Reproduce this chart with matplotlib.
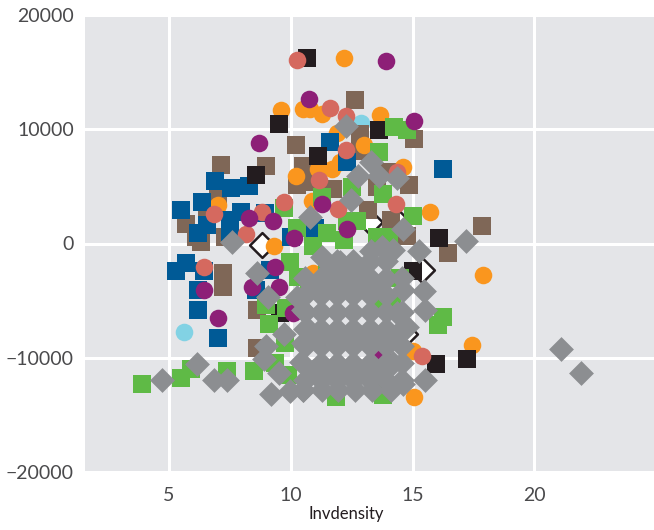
import matplotlib
matplotlib.use('Agg')
import matplotlib.pyplot as plt

# Dados (Invdensity, valor)
white_x = [8.8, 13.25, 14.3, 15.4, 14.7]
white_y = [-90, 1840, 2100, -2280, -7880]

cyan_x = [12.9, 5.6]
cyan_y = [10510, -7710]

brown_x = [10.2, 7.15, 9.0, 10.25, 10.7, 7.0, 5.7, 6.1, 6.3, 7.3, 6.55, 7.2, 7.2, 8.6, 8.6,
           12.65, 15.05, 12.85, 10.5, 11.75, 14.85, 13.55, 13.15, 14.1, 14.75, 10.7, 12.85,
           13.95, 16.45, 17.85, 9.15]
brown_y = [8580, 6830, 6750, 5080, 6750, 4120, 1750, 610, 90, 610, 2370, -2540, -3850, -5780,
           -9110, 12530, 9110, 9550, 6750, 4730, 5080, 4910, 2890, 2100, 700, 5340, 8060,
           6220, -790, 1490, -2280]

orange_x = [12.2, 9.6, 10.5, 10.8, 11.3, 13.65, 11.9, 13.0, 14.6, 11.7, 11.1, 12.0, 10.2, 7.0,
            10.85, 15.7, 17.9, 17.45, 15.0, 15.05, 10.9, 9.3, 11.5]
orange_y = [16200, 11650, 11740, 11740, 11300, 11210, 9640, 8580, 6660, 6480, 6480, 7100, 5870,
            3330, 3680, 2720, -2800, -8850, -9370, -13400, -2540, -260, -2540]

blue_x = [6.9, 7.55, 8.3, 6.35, 5.5, 7.95, 8.95, 7.5, 6.55, 6.2, 7.5, 10.0, 11.6, 12.3, 16.25,
          11.0, 5.3, 5.7, 6.45, 6.2, 6.2, 7.0, 8.55, 9.15]
blue_y = [5430, 4820, 4990, 3590, 2890, 2720, 2630, 2100, 1660, 960, 1050, 530, 8850, 7100, 6480,
          1400, -2450, -1750, -2370, -4030, -5780, -8230, -4030, -2280]

black_x = [10.65, 13.6, 11.1, 16.1, 9.5, 8.55, 15.95, 17.25, 15.0, 9.55]
black_y = [16200, 9900, 7620, 440, 10420, 5960, -10510, -10070, -2450, -6040]

green_x = [9.7, 10.25, 13.6, 14.25, 14.75, 12.5, 13.8, 11.3, 15.0, 12.7, 12.3, 11.5, 13.55, 14.05,
           10.9, 12.2, 3.9, 5.5, 5.9, 7.4, 8.5, 9.1, 9.9, 9.75, 9.35, 9.0, 9.8, 9.95, 10.3, 10.75,
           16.25, 16.05, 11.85, 13.8, 13.8, 14.5, 13.65, 11.5, 13.55, 14.15]
green_y = [3070, 1400, 7970, 10160, 9900, 4910, 4290, 4030, 2370, 1930, 1930, 960, 610, 610,
           -260, 350, -12260, -11740, -10950, -11130, -11130, -7010, -11480, -8670, -10420, -5340,
           -5610, -1660, -2890, -3420, -6390, -7100, -13400, -11650, -13230, -2980, -9550, -2540,
           -4910, -5080]

pink_x = [10.25, 11.6, 12.25, 12.25, 11.15, 14.3, 11.95, 14.35, 9.7, 8.8, 6.85, 8.15, 6.45, 15.4]
pink_y = [16030, 11830, 11130, 8150, 5520, 3420, 2980, 6220, 3590, 2720, 2540, 790, -2100, -9810]

purple_x = [8.7, 10.75, 8.3, 9.25, 10.15, 13.9, 15.05, 11.3, 12.3, 9.35, 6.45, 7.0, 8.4, 9.5,
            10.1, 11.1, 13.75]
purple_y = [8760, 12610, 2190, 2010, 440, 15940, 10690, 3420, 1230, -2100, -4030, -6480, -3850,
            -3850, -6040, -3420, -9810]

gray_x = [12.25, 13.3, 12.75, 13.6, 14.35, 12.45, 10.8, 14.6, 17.2, 7.6, 8.6, 9.05, 10.25, 10.5,
          9.7, 9.0, 8.9, 9.5, 9.2, 9.95, 10.5, 10.4, 10.5, 10.65, 6.15, 4.7, 6.85, 7.4, 21.1, 21.9,
          15.25, 11.3, 15.45, 15.5, 14.75, 14.6, 14.35, 14.2,
          12.0, 13.3, 13.75, 14.2,
          11.9, 12.55, 13.25, 13.9,
          10.6, 11.25, 11.9, 12.55, 13.25, 13.9, 14.55,
          10.6, 11.25, 11.9, 12.55, 13.25, 13.9,
          10.6, 11.25, 11.9, 12.55, 13.25, 13.9, 14.55,
          10.6, 11.25, 11.9, 12.55, 13.25, 13.9, 14.55,
          10.6, 11.25, 11.9, 12.55, 13.25, 13.9, 14.55,
          11.25, 11.9, 12.55, 13.25, 13.9, 14.55,
          10.6, 11.25, 11.9, 12.55, 13.25, 13.9, 14.55,
          10.5, 11.3, 11.95, 12.65, 13.35, 14.1, 14.6, 15.5,
          11.6, 12.2, 12.9,
          10.9, 11.6, 12.2, 12.9, 13.6,
          10.9, 11.6, 12.2, 12.9, 13.6, 14.2,
          10.9, 11.6, 12.2, 12.9, 13.6]
gray_y = [10250, 7100, 5870, 5870, 5690, 3770, 2280, 1230, 180, 90, -2540, -4640, -4640, -5780,
          -7880, -8940, -10070, -11300, -13140, -12880, -12790, -10340, -8670, -7360, -10510,
          -11910, -11910, -11910, -9200, -11300,
          -700, -1140, -4200, -5780, -7270, -4030, -6040, -10420,
          -1580, -700, -350, -530,
          -1490, -1490, -1490, -1490,
          -2980, -2980, -2980, -2980, -2980, -2980, -2980,
          -4470, -4470, -4470, -4470, -4470, -4470,
          -5960, -5960, -5960, -5960, -5960, -5960, -5960,
          -7450, -7450, -7450, -7450, -7450, -7450, -7450,
          -8940, -8940, -8940, -8940, -8940, -8940, -8940,
          -10420, -10420, -10420, -10420, -10420, -10420,
          -11910, -11910, -11910, -11910, -11910, -11910, -11910,
          -12790, -12790, -12790, -12790, -12790, -12790, -12260, -11910,
          -2230, -2230, -2230,
          -3720, -3720, -3720, -3720, -3720,
          -8190, -8190, -8190, -8190, -8190, -8190,
          -11170, -11170, -11170, -11170, -11170]

xticks = [5, 10, 15, 20]
yticks = [-20000, -10000, 0, 10000, 20000]

plt.rcParams['font.family'] = ['Lato', 'DejaVu Sans']

fig = plt.figure(figsize=(6.54, 5.30), dpi=100)
ax = fig.add_axes([85 / 654, 58 / 530, 569 / 654, 457 / 530])
ax.set_facecolor('#e4e5e8')

# Ordem de desenho igual à da figura: cinza por cima de tudo
ax.scatter(white_x, white_y, marker='D', s=160, c='white', edgecolors='#231c1f', linewidths=1.8, zorder=3)
ax.scatter(cyan_x, cyan_y, marker='o', s=160, c='#82d2e4', linewidths=0, zorder=4)
ax.scatter(brown_x, brown_y, marker='s', s=170, c='#7f6757', linewidths=0, zorder=5)
ax.scatter(orange_x, orange_y, marker='o', s=160, c='#fa961e', linewidths=0, zorder=6)
ax.scatter(blue_x, blue_y, marker='s', s=170, c='#005a96', linewidths=0, zorder=7)
ax.scatter(black_x, black_y, marker='s', s=170, c='#231c1f', linewidths=0, zorder=8)
ax.scatter(green_x, green_y, marker='s', s=170, c='#5fba46', linewidths=0, zorder=9)
ax.scatter(pink_x, pink_y, marker='o', s=160, c='#d5695f', linewidths=0, zorder=10)
ax.scatter(purple_x, purple_y, marker='o', s=160, c='#8d1f77', linewidths=0, zorder=11)
ax.scatter(gray_x, gray_y, marker='D', s=160, c='#8c8e91', linewidths=0, zorder=12)

ax.set_xlim(1.55, 24.91)
ax.set_ylim(-20000, 20000)
ax.set_xticks(xticks)
ax.set_yticks(yticks)
ax.grid(True, color='white', linewidth=2.2)
ax.set_axisbelow(True)
for s in ax.spines.values():
    s.set_visible(False)
ax.tick_params(axis='y', length=0, labelsize=14, labelcolor='#4a4a4c', pad=8)
ax.tick_params(axis='x', length=0, labelsize=14, labelcolor='#4a4a4c', pad=11)
ax.set_xlabel('Invdensity', fontsize=12, color='#231c1f')
ax.xaxis.set_label_coords((346 - 85) / 569, -34 / 457, transform=ax.transAxes)

fig.savefig('out.png', dpi=100)
